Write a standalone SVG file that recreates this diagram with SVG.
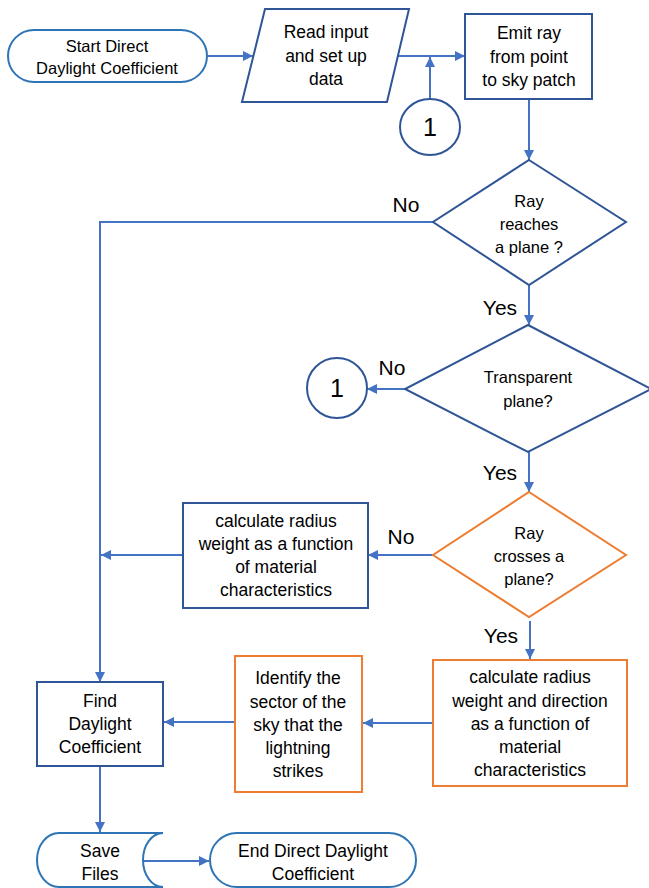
<svg xmlns="http://www.w3.org/2000/svg" width="649" height="888" viewBox="0 0 649 888">
<defs>
<marker id="ah" viewBox="0 0 10 10" refX="10" refY="5" markerWidth="11" markerHeight="10" markerUnits="userSpaceOnUse" orient="auto">
<path d="M0,0 L10,5 L0,10 Z" fill="#4472C4"/>
</marker>
<style>
.term{fill:#fff;stroke:#2E75B6;stroke-width:2}
.blue{fill:#fff;stroke:#2F5597;stroke-width:2}
.orange{fill:#fff;stroke:#ED7D31;stroke-width:2}
.con{fill:none;stroke:#4472C4;stroke-width:2}
.arr{marker-end:url(#ah)}
text{font-family:"Liberation Sans",Arial,sans-serif;fill:#000;text-anchor:middle}
.t{font-size:17.5px}
.d{font-size:16.5px}
.lbl{font-size:21px}
.num{font-size:25px}
</style>
</defs>
<g id="connectors">
<line class="con arr" x1="207" y1="56" x2="253" y2="56"/>
<line class="con arr" x1="398" y1="56" x2="465" y2="56"/>
<line class="con arr" x1="430" y1="99" x2="430" y2="57"/>
<line class="con arr" x1="529" y1="99" x2="529" y2="160"/>
<polyline class="con arr" points="433,222 100,222 100,682"/>
<line class="con arr" x1="529" y1="285" x2="529" y2="325"/>
<line class="con arr" x1="405" y1="389" x2="367" y2="389"/>
<line class="con arr" x1="529" y1="452" x2="529" y2="492"/>
<line class="con arr" x1="433" y1="555" x2="368" y2="555"/>
<line class="con arr" x1="183" y1="555" x2="101" y2="555"/>
<line class="con arr" x1="530" y1="621" x2="530" y2="659"/>
<line class="con arr" x1="433" y1="723" x2="363" y2="723"/>
<line class="con arr" x1="235" y1="722" x2="164" y2="722"/>
<line class="con arr" x1="100" y1="766" x2="100" y2="832"/>
<line class="con arr" x1="143" y1="861" x2="209" y2="861"/>
<text class="lbl" x="406" y="212">No</text>
<text class="lbl" x="500" y="315">Yes</text>
<text class="lbl" x="392" y="375">No</text>
<text class="lbl" x="500" y="480">Yes</text>
<text class="lbl" x="401" y="544">No</text>
<text class="lbl" x="501" y="643">Yes</text>
</g>
<g id="start">
<rect class="term" x="8" y="30" width="199" height="52" rx="26"/>
<text class="d" x="107" y="52">Start Direct</text>
<text class="d" x="107" y="74">Daylight Coefficient</text>
</g>
<g id="read">
<polygon class="blue" points="265,9 409,9 387,102 242,102"/>
<text class="t" x="326" y="38">Read input</text>
<text class="t" x="326" y="62">and set up</text>
<text class="t" x="326" y="85">data</text>
</g>
<g id="emit">
<rect class="blue" x="465" y="14" width="127" height="85"/>
<text class="t" x="529" y="39">Emit ray</text>
<text class="t" x="529" y="63">from point</text>
<text class="t" x="529" y="86">to sky patch</text>
</g>
<g id="conn1a">
<ellipse class="blue" cx="430" cy="127" rx="30" ry="28"/>
<text class="num" x="430" y="136">1</text>
</g>
<g id="reaches">
<polygon class="blue" points="529,160 626,222 529,285 433,222"/>
<text class="d" x="529" y="207">Ray</text>
<text class="d" x="529" y="230">reaches</text>
<text class="d" x="529" y="253">a plane ?</text>
</g>
<g id="transparent">
<polygon class="blue" points="528,325 651,389 528,452 405,389"/>
<text class="d" x="528" y="383">Transparent</text>
<text class="d" x="528" y="407">plane?</text>
</g>
<g id="conn1b">
<circle class="blue" cx="337" cy="388" r="30"/>
<text class="num" x="337" y="397">1</text>
</g>
<g id="crosses">
<polygon class="orange" points="529,492 626,555 529,617 433,555"/>
<text class="d" x="529" y="539">Ray</text>
<text class="d" x="529" y="562">crosses a</text>
<text class="d" x="529" y="585">plane?</text>
</g>
<g id="calc1">
<rect class="blue" x="183" y="503" width="185" height="105"/>
<text class="t" x="276" y="527">calculate radius</text>
<text class="t" x="276" y="550">weight as a function</text>
<text class="t" x="276" y="573">of material</text>
<text class="t" x="276" y="596">characteristics</text>
</g>
<g id="calc2">
<rect class="orange" x="433" y="660" width="194" height="126"/>
<text class="t" x="530" y="683">calculate radius</text>
<text class="t" x="530" y="707">weight and direction</text>
<text class="t" x="530" y="730">as a function of</text>
<text class="t" x="530" y="753">material</text>
<text class="t" x="530" y="776">characteristics</text>
</g>
<g id="identify">
<rect class="orange" x="235" y="656" width="127" height="136"/>
<text class="t" x="298" y="684">Identify the</text>
<text class="t" x="298" y="708">sector of the</text>
<text class="t" x="298" y="731">sky that the</text>
<text class="t" x="298" y="754">lightning</text>
<text class="t" x="298" y="777">strikes</text>
</g>
<g id="find">
<rect class="blue" x="37" y="682" width="126" height="84"/>
<text class="t" x="100" y="707">Find</text>
<text class="t" x="100" y="730">Daylight</text>
<text class="t" x="100" y="753">Coefficient</text>
</g>
<g id="save">
<path class="term" d="M59,833 H163 A20,27 0 0 0 163,887 H59 A22,27 0 0 1 59,833 Z"/>
<text class="t" x="100" y="857">Save</text>
<text class="t" x="100" y="880">Files</text>
</g>
<g id="end">
<rect class="term" x="210" y="833" width="206" height="54" rx="27"/>
<text class="t" x="313" y="857">End Direct Daylight</text>
<text class="t" x="313" y="880">Coefficient</text>
</g>
</svg>
